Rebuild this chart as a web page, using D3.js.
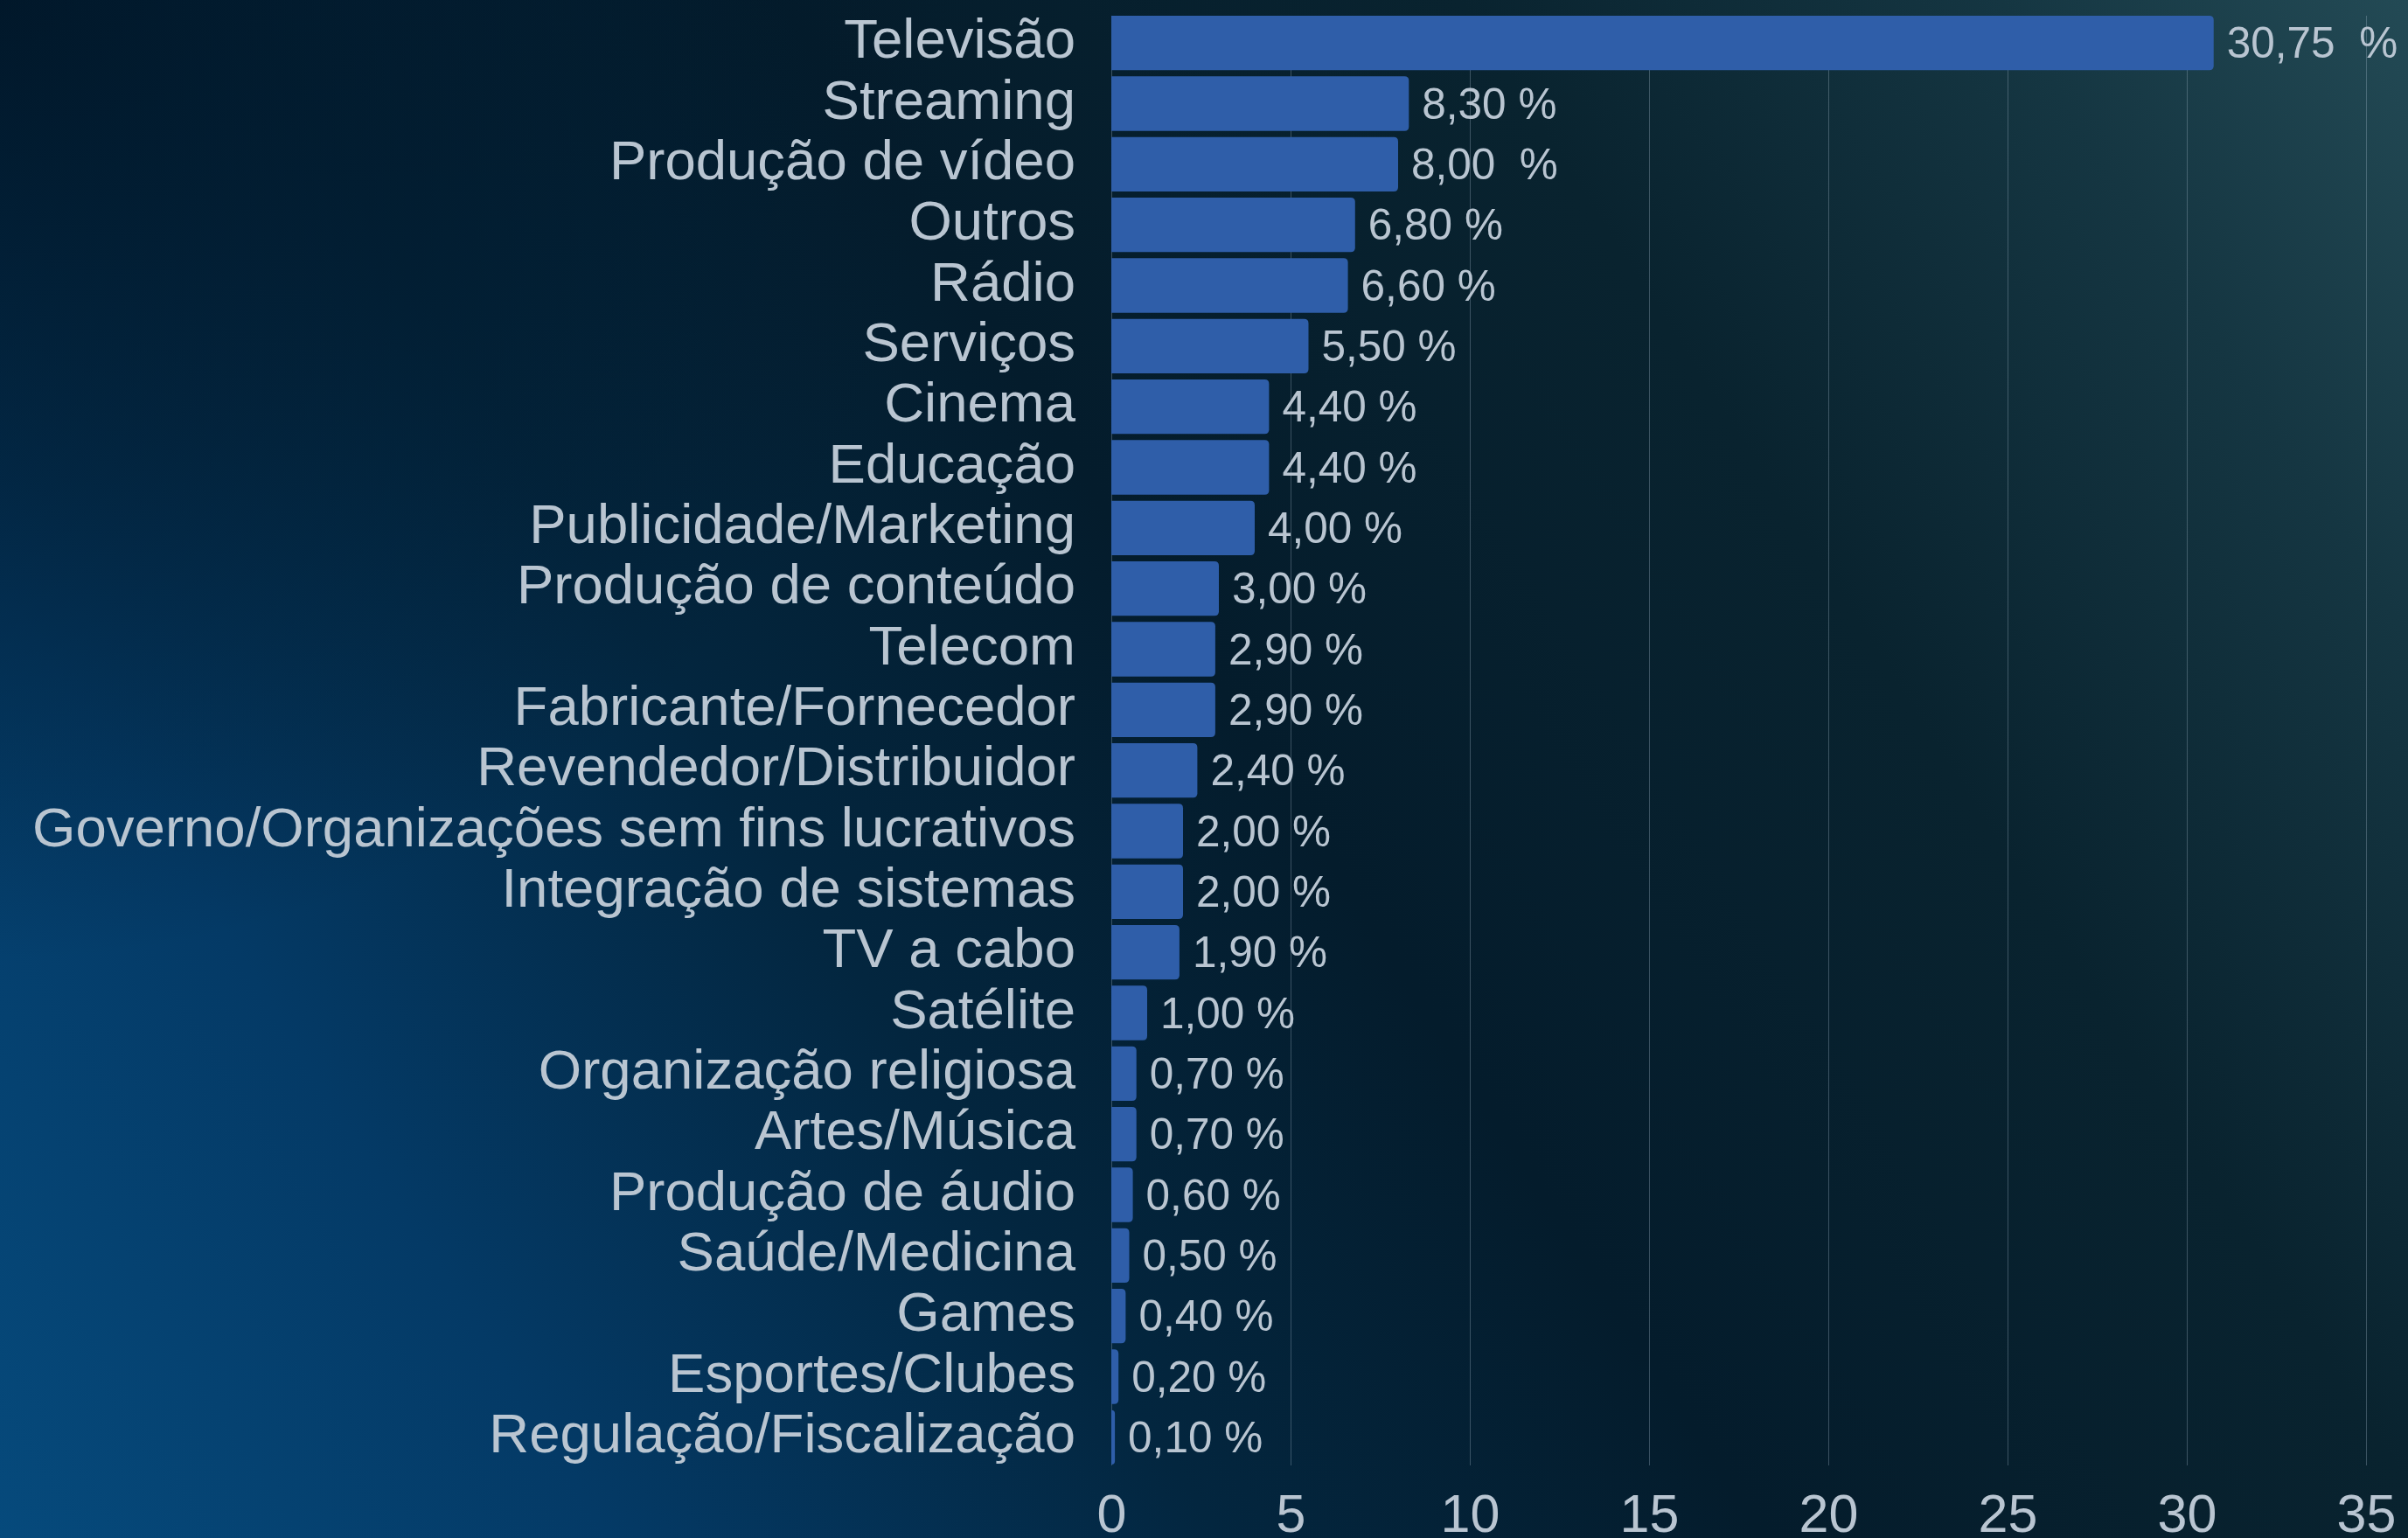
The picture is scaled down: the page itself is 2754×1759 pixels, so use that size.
<!DOCTYPE html>
<html>
<head>
<meta charset="utf-8">
<script src="https://cdn.jsdelivr.net/npm/d3@7"></script>
<style>
  html, body { margin: 0; padding: 0; background: #041c2c; overflow: hidden; }
  svg { display: block; }
  text { font-family: "Liberation Sans", Arial, sans-serif; }
</style>
</head>
<body>
<svg id="chart" width="2754" height="1759"></svg>
<script>
const categories = [
  "Televisão", "Streaming", "Produção de vídeo", "Outros", "Rádio", "Serviços",
  "Cinema", "Educação", "Publicidade/Marketing", "Produção de conteúdo", "Telecom",
  "Fabricante/Fornecedor", "Revendedor/Distribuidor",
  "Governo/Organizações sem fins lucrativos", "Integração de sistemas", "TV a cabo",
  "Satélite", "Organização religiosa", "Artes/Música", "Produção de áudio",
  "Saúde/Medicina", "Games", "Esportes/Clubes", "Regulação/Fiscalização"
];
const values = [30.75, 8.30, 8.00, 6.80, 6.60, 5.50, 4.40, 4.40, 4.00, 3.00, 2.90,
  2.90, 2.40, 2.00, 2.00, 1.90, 1.00, 0.70, 0.70, 0.60, 0.50, 0.40, 0.20, 0.10];
const valueLabels = ["30,75  %", "8,30 %", "8,00  %", "6,80 %", "6,60 %", "5,50 %",
  "4,40 %", "4,40 %", "4,00 %", "3,00 %", "2,90 %", "2,90 %", "2,40 %", "2,00 %",
  "2,00 %", "1,90 %", "1,00 %", "0,70 %", "0,70 %", "0,60 %", "0,50 %", "0,40 %",
  "0,20 %", "0,10 %"];
const xTicks = [0, 5, 10, 15, 20, 25, 30, 35];

const W = 2754, H = 1759;
const svg = d3.select("#chart");

// background
const defs = svg.append("defs");
const lg = defs.append("linearGradient").attr("id", "bg")
  .attr("gradientUnits", "userSpaceOnUse")
  .attr("x1", 0).attr("y1", H).attr("x2", W).attr("y2", 0);
[[0, "#064a7c"], [0.18, "#043a66"], [0.36, "#03263f"], [0.52, "#041c2c"],
 [0.72, "#09232f"], [0.88, "#153642"], [1, "#234a55"]]
  .forEach(([o, c]) => lg.append("stop").attr("offset", o).attr("stop-color", c));
const rg = defs.append("radialGradient").attr("id", "tl")
  .attr("gradientUnits", "userSpaceOnUse")
  .attr("cx", 0).attr("cy", 0).attr("r", 1100);
rg.append("stop").attr("offset", 0).attr("stop-color", "#011424").attr("stop-opacity", 0.85);
rg.append("stop").attr("offset", 0.5).attr("stop-color", "#011626").attr("stop-opacity", 0.5);
rg.append("stop").attr("offset", 1).attr("stop-color", "#011626").attr("stop-opacity", 0);
svg.append("rect").attr("width", W).attr("height", H).attr("fill", "url(#bg)");
svg.append("rect").attr("width", W).attr("height", H).attr("fill", "url(#tl)");

const x = d3.scaleLinear().domain([0, 35]).range([1271, 2706]);
const y = d3.scaleBand().domain(categories).range([14.5, 1678.5])
  .paddingInner(0.1).paddingOuter(0.05);

const textColor = "#b9c5d1";
const gridTop = y(categories[0]);
const gridBottom = y(categories[categories.length - 1]) + y.bandwidth() + 1;

// gridlines
svg.append("g").selectAll("line").data(xTicks).join("line")
  .attr("x1", d => Math.round(x(d)) + 0.5).attr("x2", d => Math.round(x(d)) + 0.5)
  .attr("y1", gridTop).attr("y2", gridBottom)
  .attr("stroke", "#9fb2c2").attr("stroke-opacity", 0.35).attr("stroke-width", 1);

// bars with rounded right end
const data = categories.map((c, i) => ({ c, v: values[i], label: valueLabels[i] }));
function barPath(d) {
  const x0 = x(0), x1 = x(d.v), y0 = y(d.c), h = y.bandwidth();
  const r = Math.min(5, (x1 - x0), h / 2);
  return `M${x0},${y0}H${x1 - r}Q${x1},${y0} ${x1},${y0 + r}V${y0 + h - r}Q${x1},${y0 + h} ${x1 - r},${y0 + h}H${x0}Z`;
}
svg.append("g").selectAll("path").data(data).join("path")
  .attr("d", barPath).attr("fill", "#2f5ea9");

// value labels
svg.append("g").selectAll("text").data(data).join("text")
  .attr("x", d => x(d.v) + 15)
  .attr("y", d => y(d.c) + y.bandwidth() / 2 + 17)
  .attr("fill", textColor).attr("font-size", 49.5)
  .style("white-space", "pre")
  .text(d => d.label);

// category labels
svg.append("g").selectAll("text").data(data).join("text")
  .attr("x", 1230)
  .attr("y", d => y(d.c) + y.bandwidth() / 2 + 17)
  .attr("text-anchor", "end")
  .attr("fill", textColor).attr("font-size", 63.5)
  .text(d => d.c);

// x axis
const axis = svg.append("g").attr("transform", "translate(0,1752)")
  .call(d3.axisBottom(x).tickValues(xTicks).tickSize(0).tickPadding(0).tickFormat(d3.format("d")));
axis.select(".domain").remove();
axis.selectAll("text")
  .attr("y", 0).attr("dy", 0)
  .attr("fill", textColor).attr("font-size", 61)
  .attr("font-family", "Liberation Sans, Arial, sans-serif");
</script>
</body>
</html>
